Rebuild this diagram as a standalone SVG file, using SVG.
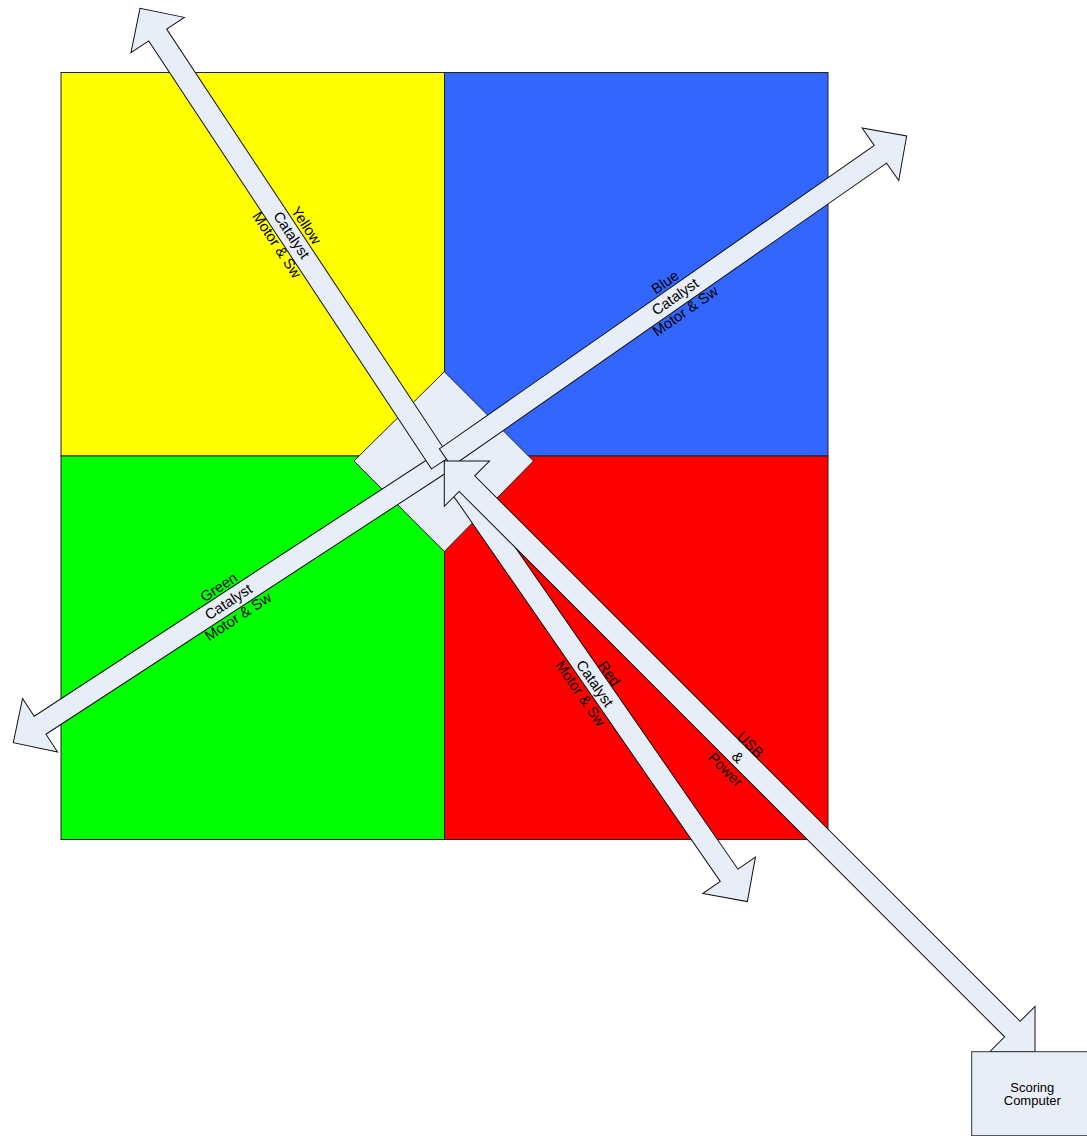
<svg xmlns="http://www.w3.org/2000/svg" width="1087" height="1136" viewBox="0 0 1087 1136">
<style>
.quad{stroke:#222;stroke-width:1}
.hub{fill:#e8eef7;stroke:#222;stroke-width:1}
.arrow{fill:#e8eef7;stroke:#111;stroke-width:1;stroke-linejoin:miter}
.lbl{font-family:"Liberation Sans",Arial,sans-serif;font-size:14.7px;text-anchor:middle;fill:#000}
.box{fill:#e8eef7;stroke:#333;stroke-width:1}
.boxt{font-family:"Liberation Sans",Arial,sans-serif;font-size:13px;text-anchor:middle;fill:#000}
</style>
<rect width="1087" height="1136" fill="#fff"/>
<g id="yellow-zone"><rect class="quad" x="61" y="72.5" width="383.5" height="383.5" fill="#ffff00"/></g>
<g id="blue-zone"><rect class="quad" x="444.5" y="72.5" width="383.5" height="383.5" fill="#3366ff"/></g>
<g id="green-zone"><rect class="quad" x="61" y="456" width="383.5" height="383.5" fill="#00ff00"/></g>
<g id="red-zone"><rect class="quad" x="444.5" y="456" width="383.5" height="383.5" fill="#ff0000"/></g>
<g id="hub"><polygon class="hub" points="444.3,371.7 533.5,461 444.3,551.5 354,461"/></g>
<g id="connectors">
<polygon id="green-arrow" class="arrow" transform="translate(444,461.5) rotate(146.86)" points="0,-10.75 482.4,-10.75 482.4,-32 514.4,0 482.4,32 482.4,10.75 0,10.75"/>
<polygon id="yellow-arrow" class="arrow" transform="translate(440.5,463) rotate(-123.46)" points="0,-10.75 513,-10.75 513,-32 545,0 513,32 513,10.75 0,10.75"/>
<polygon id="blue-arrow" class="arrow" transform="translate(445.5,457.7) rotate(-34.9)" points="0,-10.75 530.3,-10.75 530.3,-32 562.3,0 530.3,32 530.3,10.75 0,10.75"/>
<polygon id="red-arrow" class="arrow" transform="translate(454.4,478.4) rotate(55.31)" points="0,-10.75 482.7,-10.75 482.7,-32 514.7,0 482.7,32 482.7,10.75 0,10.75"/>
<polygon id="usb-arrow" class="arrow" transform="translate(444.3,461) rotate(45)" points="0,0 32,-32 32,-11 803.4,-11 803.4,-32 835.4,0 803.4,32 803.4,11 32,11 32,32"/>
<text class="lbl" transform="translate(291.7,235) rotate(56.5)"><tspan x="0" y="-12.4">Yellow</tspan><tspan x="0" y="5.2">Catalyst</tspan><tspan x="0" y="22.8">Motor &amp; Sw</tspan></text>
<text class="lbl" transform="translate(675,296.5) rotate(-34.9)"><tspan x="0" y="-12.4">Blue</tspan><tspan x="0" y="5.2">Catalyst</tspan><tspan x="0" y="22.8">Motor &amp; Sw</tspan></text>
<text class="lbl" transform="translate(228.3,601.7) rotate(-33.15)"><tspan x="0" y="-12.4">Green</tspan><tspan x="0" y="5.2">Catalyst</tspan><tspan x="0" y="22.8">Motor &amp; Sw</tspan></text>
<text class="lbl" transform="translate(595,683.3) rotate(55.3)"><tspan x="0" y="-12.4">Red</tspan><tspan x="0" y="5.2">Catalyst</tspan><tspan x="0" y="22.8">Motor &amp; Sw</tspan></text>
<text class="lbl" transform="translate(738,757) rotate(45)"><tspan x="0" y="-12.4">USB</tspan><tspan x="0" y="5.2">&amp;</tspan><tspan x="0" y="22.8">Power</tspan></text>
</g>
<g id="scoring-computer">
<rect class="box" x="971.7" y="1051.7" width="121" height="84"/>
<text class="boxt"><tspan x="1032.3" y="1091.5">Scoring</tspan><tspan x="1032.3" y="1105">Computer</tspan></text>
</g>
</svg>
